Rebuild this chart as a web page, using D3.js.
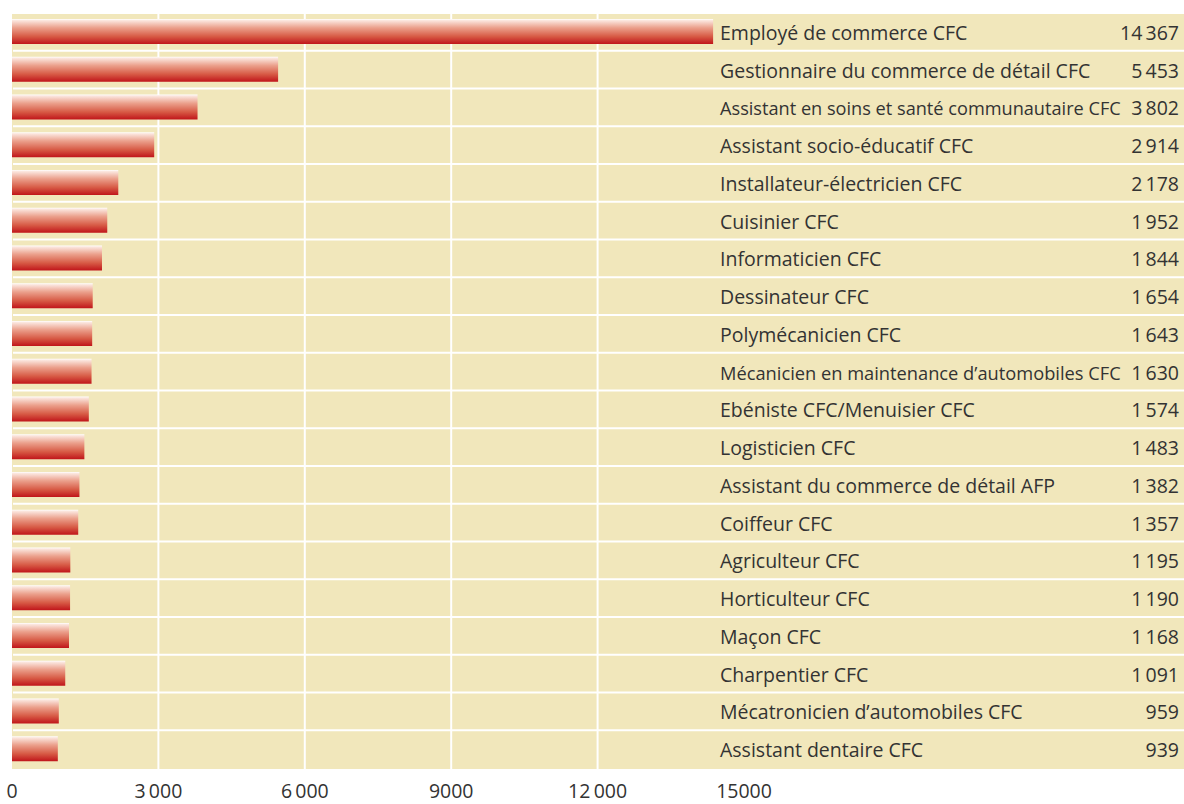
<!DOCTYPE html>
<html>
<head>
<meta charset="utf-8">
<script src="https://cdn.jsdelivr.net/npm/d3@7"></script>
<style>
  body { margin: 0; background: #fff; }
  text { font-family: "Open Sans", "Noto Sans", sans-serif; fill: #333; }
</style>
</head>
<body>
<div id="chart"></div>
<script>
// Data
const categories = [
  "Employé de commerce CFC",
  "Gestionnaire du commerce de détail CFC",
  "Assistant en soins et santé communautaire CFC",
  "Assistant socio-éducatif CFC",
  "Installateur-électricien CFC",
  "Cuisinier CFC",
  "Informaticien CFC",
  "Dessinateur CFC",
  "Polymécanicien CFC",
  "Mécanicien en maintenance d’automobiles CFC",
  "Ebéniste CFC/Menuisier CFC",
  "Logisticien CFC",
  "Assistant du commerce de détail AFP",
  "Coiffeur CFC",
  "Agriculteur CFC",
  "Horticulteur CFC",
  "Maçon CFC",
  "Charpentier CFC",
  "Mécatronicien d’automobiles CFC",
  "Assistant dentaire CFC"
];
const values = [14367, 5453, 3802, 2914, 2178, 1952, 1844, 1654, 1643, 1630,
                1574, 1483, 1382, 1357, 1195, 1190, 1168, 1091, 959, 939];
const tickValues = [0, 3000, 6000, 9000, 12000, 15000];
const tickLabels = ["0", "3\u2009000", "6\u2009000", "9000", "12\u2009000", "15000"];

const width = 1184, height = 804;
const panel = { left: 12, top: 14, right: 1184, bottom: 769 };
const fontSize = 19.5;

const svg = d3.select("#chart").append("svg")
  .attr("width", width)
  .attr("height", height);

const defs = svg.append("defs");
const grad = defs.append("linearGradient")
  .attr("id", "barGrad")
  .attr("x1", 0).attr("y1", 0).attr("x2", 0).attr("y2", 1);
[[0, "#ffffff"], [0.06, "#fbe6de"], [0.35, "#eba08c"], [0.7, "#d75a45"], [1, "#c0151a"]]
  .forEach(s => grad.append("stop").attr("offset", s[0]).attr("stop-color", s[1]));

const x = d3.scaleLinear().domain([0, 15000]).range([panel.left, 744]);
const y = d3.scaleBand().domain(categories).range([panel.top, panel.bottom]).padding(0);

// background panel
svg.append("rect")
  .attr("x", panel.left).attr("y", panel.top)
  .attr("width", panel.right - panel.left)
  .attr("height", panel.bottom - panel.top)
  .attr("fill", "#f1e7bb");

// vertical grid
svg.append("g").selectAll("line")
  .data(tickValues.filter(d => d > 0 && d < 15000))
  .enter().append("line")
  .attr("x1", d => x(d)).attr("x2", d => x(d))
  .attr("y1", panel.top).attr("y2", panel.bottom)
  .attr("stroke", "#fff").attr("stroke-width", 2);

// horizontal row separators
svg.append("g").selectAll("line")
  .data(categories.slice(1))
  .enter().append("line")
  .attr("x1", panel.left + 1).attr("x2", panel.right)
  .attr("y1", d => y(d) - 1).attr("y2", d => y(d) - 1)
  .attr("stroke", "#fff").attr("stroke-width", 2);

// bars
const bh = 25;
svg.append("g").selectAll("rect")
  .data(values)
  .enter().append("rect")
  .attr("x", x(0))
  .attr("y", (d, i) => y(categories[i]) + 5)
  .attr("width", d => x(d) - x(0))
  .attr("height", bh)
  .attr("fill", "url(#barGrad)");

// value labels
const fmt = v => v >= 1000 ? String(Math.floor(v / 1000)) + "\u2009" + String(v % 1000).padStart(3, "0") : String(v);
const valueText = svg.append("g").selectAll("text")
  .data(values)
  .enter().append("text")
  .attr("x", 1179)
  .attr("y", (d, i) => y(categories[i]) + y.bandwidth() / 2 + 7)
  .attr("text-anchor", "end")
  .attr("font-size", fontSize)
  .text(d => fmt(d));

// category labels, shrunk a little when they would run into the value
const valueStarts = valueText.nodes().map(n => n.getBBox().x);
svg.append("g").selectAll("text")
  .data(categories)
  .enter().append("text")
  .attr("x", 720)
  .attr("y", d => y(d) + y.bandwidth() / 2 + 7)
  .attr("font-size", fontSize)
  .text(d => d)
  .each(function (d, i) {
    const w = this.getComputedTextLength();
    const maxW = valueStarts[i] - 10 - 720;
    if (w > maxW) {
      d3.select(this).attr("font-size", fontSize * maxW / w);
    }
  });

// x axis labels
svg.append("g").selectAll("text")
  .data(tickValues)
  .enter().append("text")
  .attr("x", d => x(d))
  .attr("y", 798)
  .attr("text-anchor", "middle")
  .attr("font-size", fontSize)
  .text((d, i) => tickLabels[i]);
</script>
</body>
</html>
